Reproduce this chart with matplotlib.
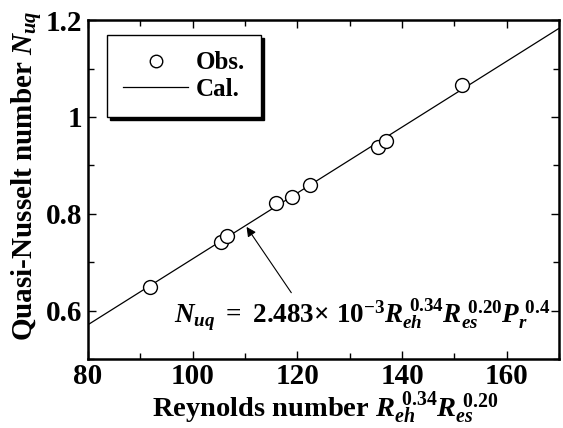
import matplotlib.pyplot as plt
from matplotlib.ticker import MultipleLocator

obs_x = [91.8, 105.4, 106.5, 116.0, 119.0, 122.4, 135.5, 137.0, 151.4]
obs_y = [0.648, 0.742, 0.754, 0.822, 0.834, 0.859, 0.939, 0.950, 1.066]

# calculated correlation line
cal_x = [80, 170]
cal_y = [0.571, 1.183]

plt.rcParams['font.family'] = 'Liberation Serif'
plt.rcParams['font.weight'] = 'bold'
plt.rcParams['axes.labelweight'] = 'bold'
plt.rcParams['mathtext.fontset'] = 'custom'
plt.rcParams['mathtext.rm'] = 'Liberation Serif:bold'
plt.rcParams['mathtext.it'] = 'Liberation Serif:bold:italic'
plt.rcParams['mathtext.bf'] = 'Liberation Serif:bold'

fig = plt.figure(figsize=(5.63, 4.28), dpi=100)
ax = fig.add_axes([0.1563, 0.161, 0.8366, 0.792])

ax.plot(obs_x, obs_y, 'o', mfc='white', mec='black', ms=10, mew=1.0, label='Obs.', zorder=3)
ax.plot(cal_x, cal_y, '-', color='black', lw=0.9, label='Cal.', zorder=2)

ax.set_xlim(80, 170)
ax.set_ylim(0.5, 1.2)
ax.xaxis.set_major_locator(MultipleLocator(20))
ax.xaxis.set_minor_locator(MultipleLocator(10))
ax.yaxis.set_minor_locator(MultipleLocator(0.1))
ax.set_yticks([0.6, 0.8, 1.0, 1.2])
ax.set_yticklabels(['0.6', '0.8', '1', '1.2'])
ax.tick_params(which='both', direction='in', top=True, right=True, labelsize=21, width=1)
ax.tick_params(axis='x', pad=3)
ax.tick_params(axis='y', pad=4)
ax.tick_params(which='major', length=6)
ax.tick_params(which='minor', length=4)
for s in ax.spines.values():
    s.set_linewidth(1.8)

ax.set_xlabel(r'Reynolds number $R_{eh}^{\ 0.34}R_{es}^{\ 0.20}$', fontsize=20.5)
ax.xaxis.set_label_coords(0.505, -0.172, transform=ax.transAxes)
ax.xaxis.label.set_va('baseline')
ax.set_ylabel(r'Quasi-Nusselt number $N_{uq}$', fontsize=21)
ax.yaxis.set_label_coords(-0.128, 0.54, transform=ax.transAxes)
ax.yaxis.label.set_va('center')

ax.annotate(r'$N_{uq}\ \mathrm{=\ 2.483{\times}\ 10^{-3}}R_{eh}^{\ 0.34}R_{es}^{\ 0.20}P_r^{\ 0.4}$',
            xy=(110.3, 0.773), xytext=(96.5, 0.575),
            fontsize=19.5, ha='left', va='baseline',
            arrowprops=dict(arrowstyle='-|>', color='black', lw=0.8, mutation_scale=14,
                            relpos=(0.32, 1.0), shrinkA=2, shrinkB=0))

leg = ax.legend(loc='upper left', bbox_to_anchor=(0.040, 0.956), fontsize=18,
                frameon=True, fancybox=False, shadow={'color': 'black', 'alpha': 1.0},
                edgecolor='black', handlelength=2.6, borderpad=0.65, labelspacing=0.15,
                markerscale=0.9, handletextpad=0.3, borderaxespad=0)
leg.get_frame().set_linewidth(1.0)

fig.savefig('out.png', dpi=100)
